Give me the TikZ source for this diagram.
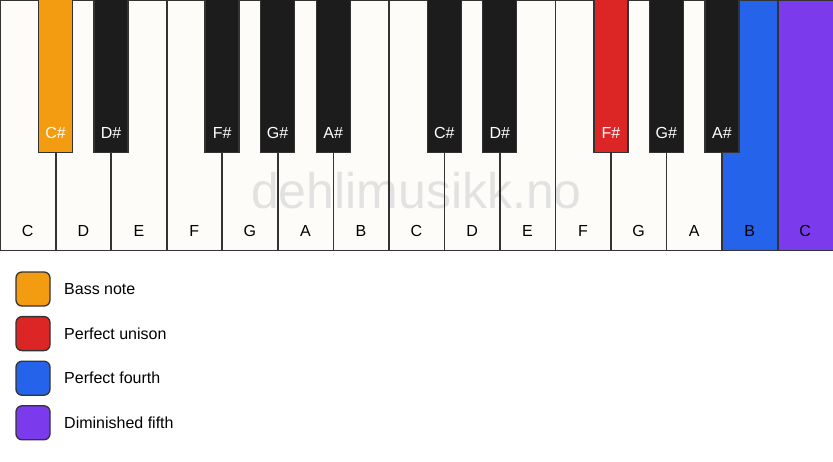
\documentclass[tikz,border=0pt]{standalone}
\usepackage{fontspec}
\setmainfont{Liberation Sans}
\usepackage{xcolor}
\usetikzlibrary{positioning}

\definecolor{keywhite}{HTML}{FDFCF9}
\definecolor{keyblack}{HTML}{1C1C1C}
\definecolor{keyline}{HTML}{333333}
\definecolor{bassnote}{HTML}{F39C12}
\definecolor{unison}{HTML}{DC2626}
\definecolor{fourth}{HTML}{2563EB}
\definecolor{dimfifth}{HTML}{7C3AED}
\definecolor{watermark}{HTML}{E2E2E2}

\begin{document}
\begin{tikzpicture}[x=1pt, y=-1pt,
    whitekey/.style={anchor=north west, minimum width=55.53pt, minimum height=250pt, inner sep=0pt},
    keyedge/.style={draw=keyline, line width=1.3pt},
    blackkey/.style={draw=keyline, line width=1.3pt, anchor=north, minimum width=34pt, minimum height=153pt, inner sep=0pt},
    keylabel/.style={font=\fontsize{16}{16}\selectfont, inner sep=0pt},
    legendbox/.style={draw=keyline, line width=1.3pt, rounded corners=6pt, minimum size=34pt, inner sep=0pt}]
    \fill[white] (0,0) rectangle (833,461);
    \useasboundingbox (0,0) rectangle (833,461);

    % white keys
    \foreach \n/\c [count=\i from 0] in {C/keywhite, D/keywhite, E/keywhite, F/keywhite, G/keywhite, A/keywhite, B/keywhite, C/keywhite, D/keywhite, E/keywhite, F/keywhite, G/keywhite, A/keywhite, B/fourth, C/dimfifth}{
        \node[whitekey, fill=\c] (w\i) at (\i*55.533, 0) {};
    }

    % watermark, under the key edges
    \node[text=watermark, font=\fontsize{50}{50}\selectfont] (mark) at (416.5, 191) {dehlimusikk.no};

    \foreach \n [count=\i from 0] in {C,D,E,F,G,A,B,C,D,E,F,G,A,B,C}{
        \draw[keyedge] (w\i.north west) rectangle (w\i.south east);
        \node[keylabel] (wl\i) at (\i*55.533+27.77, 231) {\n};
    }

    % black keys
    \foreach \k/\n/\c in {1/C\#/bassnote, 2/D\#/keyblack, 4/F\#/keyblack, 5/G\#/keyblack, 6/A\#/keyblack, 8/C\#/keyblack, 9/D\#/keyblack, 11/F\#/unison, 12/G\#/keyblack, 13/A\#/keyblack}{
        \node[blackkey, fill=\c] (b\k) at (\k*55.533, -1) {};
        \node[keylabel, text=white] (bl\k) at (\k*55.533, 133) {\n};
    }

    % legend
    \foreach \t/\c [count=\j from 0] in {Bass note/bassnote, Perfect unison/unison, Perfect fourth/fourth, Diminished fifth/dimfifth}{
        \node[legendbox, fill=\c] (box\j) at (33, 289+44.6*\j) {};
        \node[keylabel, anchor=west] (txt\j) at (64, 289+44.6*\j) {\t};
    }
\end{tikzpicture}
\end{document}
